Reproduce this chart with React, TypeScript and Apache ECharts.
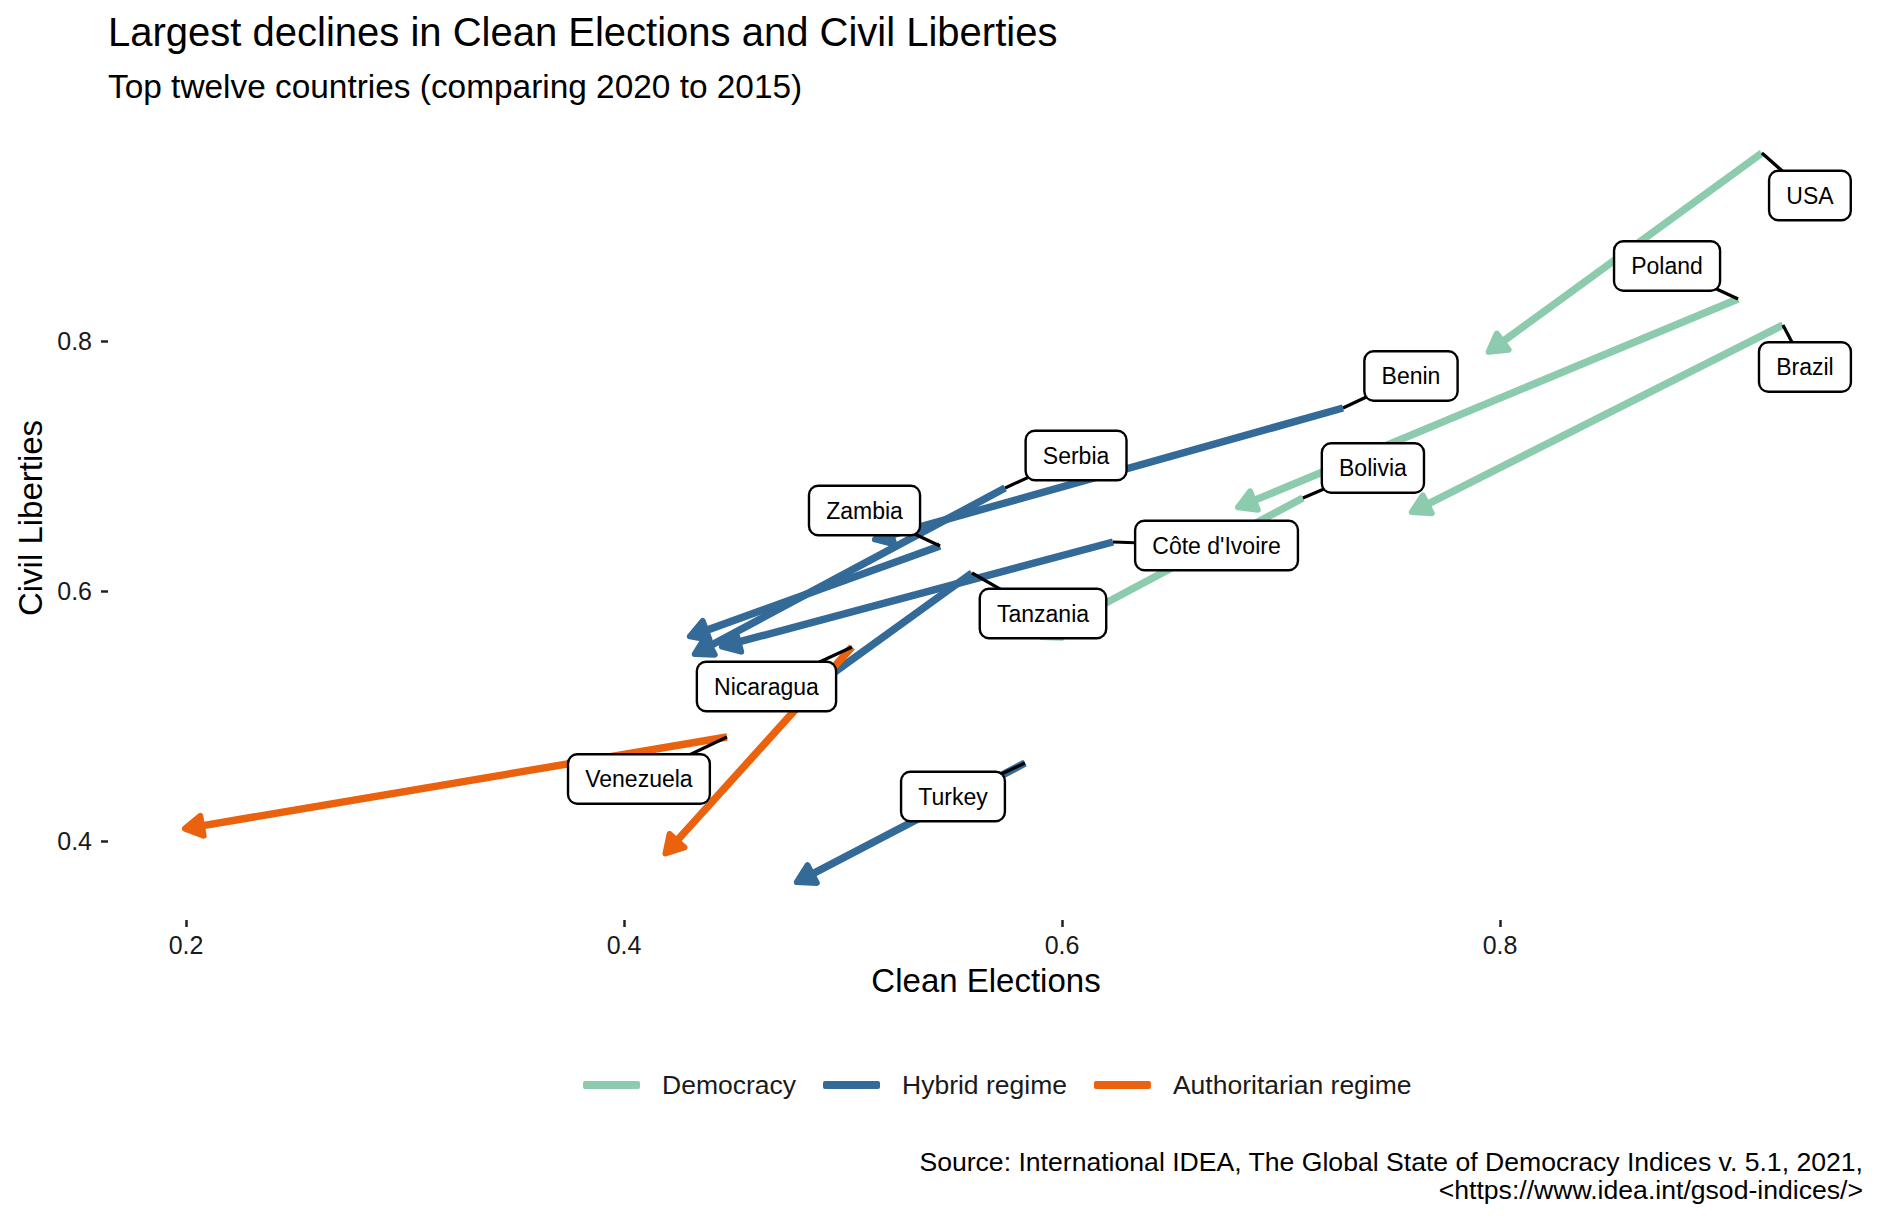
import React, { useEffect, useRef } from "react";
import * as echarts from "echarts";

// ---- data ----
const countries = ["USA", "Poland", "Brazil", "Bolivia", "Benin", "Serbia", "Zambia", "Côte d'Ivoire", "Tanzania", "Nicaragua", "Venezuela", "Turkey"];
const regimeOf = ["Democracy", "Democracy", "Democracy", "Democracy", "Hybrid regime", "Hybrid regime", "Hybrid regime", "Hybrid regime", "Hybrid regime", "Authoritarian regime", "Authoritarian regime", "Hybrid regime"];
const clean2015 = [0.9196, 0.9087, 0.9292, 0.71, 0.7283, 0.574, 0.5443, 0.6233, 0.5589, 0.5041, 0.447, 0.5831];
const civil2015 = [0.9504, 0.8336, 0.8128, 0.6744, 0.7464, 0.6824, 0.636, 0.6392, 0.6144, 0.5552, 0.4832, 0.4624];
const clean2020 = [0.7941, 0.6795, 0.7589, 0.59, 0.5137, 0.4315, 0.4292, 0.4438, 0.4804, 0.4183, 0.1986, 0.4781];
const civil2020 = [0.7904, 0.6664, 0.6624, 0.5624, 0.6408, 0.5488, 0.5632, 0.5552, 0.5152, 0.3888, 0.4096, 0.3664];

const regimeNames = ["Democracy", "Hybrid regime", "Authoritarian regime"];
const xTicks = [0.2, 0.4, 0.6, 0.8];
const yTicks = [0.4, 0.6, 0.8];

// ---- layout / style (not data) ----
const regimeColors = ["#8DCBAF", "#336A98", "#EA610E"];
// repelled label box centre, in pixels relative to the 2015 point
const labelOffsets = [
  [48, 42.5], [-71, -33], [22, 42], [70, -30], [68, -32], [71, -32.5],
  [-75.5, -35.5], [103.5, 3.5], [71, 40.5], [-85.5, 39.5], [-88, 42], [-72, 33.5],
];
const FONT = "'Liberation Sans', Arial, Helvetica, sans-serif";
const TEXT = "#1a1a1a";

function arrowRender(color: string) {
  return (params: any, api: any) => {
    const p0 = api.coord([api.value(0), api.value(1)]);
    const tipRaw = api.coord([api.value(2), api.value(3)]);
    const dx = tipRaw[0] - p0[0];
    const dy = tipRaw[1] - p0[1];
    const len = Math.hypot(dx, dy) || 1;
    const ux = dx / len;
    const uy = dy / len;
    // pull the drawn tip back a little so the rounded stroke ends at the data point
    const p1 = [tipRaw[0] - ux * 2, tipRaw[1] - uy * 2];
    const rx = -ux;
    const ry = -uy;
    const L = 20;
    const a = Math.PI / 6;
    const c = Math.cos(a);
    const s = Math.sin(a);
    const w1 = [p1[0] + L * (rx * c - ry * s), p1[1] + L * (rx * s + ry * c)];
    const w2 = [p1[0] + L * (rx * c + ry * s), p1[1] + L * (-rx * s + ry * c)];
    const end = [p1[0] - ux * 8, p1[1] - uy * 8];
    return {
      type: "group",
      children: [
        {
          type: "line",
          shape: { x1: p0[0], y1: p0[1], x2: end[0], y2: end[1] },
          style: { stroke: color, lineWidth: 7.5, lineCap: "butt" },
        },
        {
          type: "polygon",
          shape: { points: [w1, p1, w2] },
          style: { stroke: color, fill: color, lineWidth: 6, lineJoin: "round" },
        },
      ],
    };
  };
}

export default function App() {
  const ref = useRef<HTMLDivElement>(null);

  useEffect(() => {
    if (!ref.current) return;
    const chart = echarts.init(ref.current, undefined, { renderer: "svg" });

    const arrowSeries = regimeNames.map((name, r) => ({
      type: "custom",
      name,
      itemStyle: { color: regimeColors[r] },
      encode: { x: [0, 2], y: [1, 3] },
      data: countries
        .map((_, i) => i)
        .filter((i) => regimeOf[i] === name)
        .map((i) => [clean2015[i], civil2015[i], clean2020[i], civil2020[i]]),
      renderItem: arrowRender(regimeColors[r]),
      z: 2,
      silent: true,
    }));

    const connectorSeries = {
      type: "custom",
      name: "connectors",
      encode: { x: 0, y: 1 },
      data: countries.map((_, i) => [clean2015[i], civil2015[i], i]),
      renderItem: (params: any, api: any) => {
        const p = api.coord([api.value(0), api.value(1)]);
        const o = labelOffsets[api.value(2)];
        return {
          type: "line",
          shape: { x1: p[0], y1: p[1], x2: p[0] + o[0], y2: p[1] + o[1] },
          style: { stroke: "#000", lineWidth: 3.2 },
        };
      },
      z: 3,
      silent: true,
    };

    const labelSeries = {
      type: "custom",
      name: "labels",
      encode: { x: 0, y: 1 },
      data: countries.map((_, i) => [clean2015[i], civil2015[i], i]),
      renderItem: (params: any, api: any) => {
        const p = api.coord([api.value(0), api.value(1)]);
        const i = api.value(2);
        const o = labelOffsets[i];
        return {
          type: "text",
          x: p[0] + o[0],
          y: p[1] + o[1],
          style: {
            text: countries[i],
            fontSize: 23,
            fontFamily: FONT,
            fill: "#000",
            align: "center",
            verticalAlign: "middle",
            lineHeight: 23,
            backgroundColor: "#fff",
            borderColor: "#000",
            borderWidth: 2.4,
            borderRadius: 8,
            padding: [12, 16],
          },
        };
      },
      z: 4,
      silent: true,
    };

    const option: any = {
      animation: false,
      backgroundColor: "#fff",
      textStyle: { fontFamily: FONT },
      grid: { left: 108, right: 8.7, top: 116.5, bottom: 302, containLabel: false },
      xAxis: {
        type: "value",
        min: 0.16438,
        max: 0.97,
        splitLine: { show: false },
        axisLine: { show: false },
        axisTick: { show: true, customValues: xTicks, length: 7, lineStyle: { color: "#222", width: 2.5 } },
        axisLabel: {
          customValues: xTicks,
          fontSize: 25,
          color: TEXT,
          margin: 12,
          fontFamily: FONT,
          formatter: (v: number) => v.toFixed(1),
        },
      },
      yAxis: {
        type: "value",
        min: 0.3368,
        max: 0.9796,
        splitLine: { show: false },
        axisLine: { show: false },
        axisTick: { show: true, customValues: yTicks, length: 7, lineStyle: { color: "#222", width: 2.5 } },
        axisLabel: {
          customValues: yTicks,
          fontSize: 25,
          color: TEXT,
          margin: 16,
          fontFamily: FONT,
          formatter: (v: number) => v.toFixed(1),
        },
      },
      legend: {
        data: regimeNames,
        left: 578,
        top: 1065,
        orient: "horizontal",
        icon: "roundRect",
        itemWidth: 57,
        itemHeight: 8,
        itemGap: 27,
        selectedMode: false,
        textStyle: { fontSize: 26.5, color: TEXT, fontFamily: FONT, lineHeight: 30, padding: [0, 0, 0, 17] },
      },
      graphic: [
        {
          type: "text",
          x: 108,
          y: 31.5,
          style: { text: "Largest declines in Clean Elections and Civil Liberties", fontSize: 40, fontFamily: FONT, fill: "#000", align: "left", verticalAlign: "middle" },
        },
        {
          type: "text",
          x: 108,
          y: 86,
          style: { text: "Top twelve countries (comparing 2020 to 2015)", fontSize: 33.4, fontFamily: FONT, fill: "#000", align: "left", verticalAlign: "middle" },
        },
        {
          type: "text",
          x: 986,
          y: 980,
          style: { text: "Clean Elections", fontSize: 33, fontFamily: FONT, fill: "#000", align: "center", verticalAlign: "middle" },
        },
        {
          type: "text",
          x: 30,
          y: 518,
          rotation: Math.PI / 2,
          style: { text: "Civil Liberties", fontSize: 33, fontFamily: FONT, fill: "#000", align: "center", verticalAlign: "middle" },
        },
        {
          type: "text",
          x: 1863,
          y: 1162,
          style: { text: "Source: International IDEA, The Global State of Democracy Indices v. 5.1, 2021,", fontSize: 26.6, fontFamily: FONT, fill: "#000", align: "right", verticalAlign: "middle" },
        },
        {
          type: "text",
          x: 1863,
          y: 1190,
          style: { text: "<https://www.idea.int/gsod-indices/>", fontSize: 26.6, fontFamily: FONT, fill: "#000", align: "right", verticalAlign: "middle" },
        },
      ],
      series: [...arrowSeries, connectorSeries, labelSeries],
    };

    chart.setOption(option);
    return () => chart.dispose();
  }, []);

  return (
    <div
      ref={ref}
      style={{ position: "absolute", left: 0, top: 0, width: 1881, height: 1222, background: "#fff" }}
    />
  );
}
